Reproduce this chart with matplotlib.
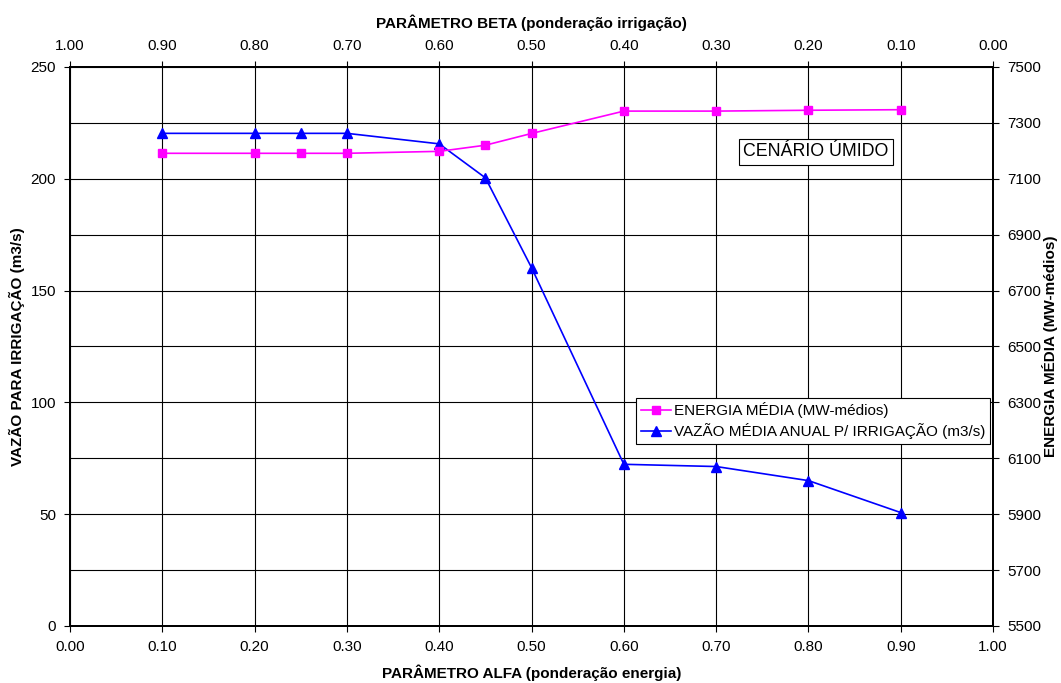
import numpy as np
import matplotlib
matplotlib.use("Agg")
from matplotlib import pyplot as plt
from matplotlib.ticker import MultipleLocator, FixedLocator, FormatStrFormatter

plt.rcParams['font.family'] = ['Liberation Sans', 'DejaVu Sans']

# alfa values (beta = 1 - alfa)
alfa = [0.10, 0.20, 0.25, 0.30, 0.40, 0.45, 0.50, 0.60, 0.70, 0.80, 0.90]
# mean energy, MW-médios (right axis)
energia = [7191, 7191, 7191, 7191, 7198, 7220, 7262, 7342, 7342, 7345, 7347]
# mean annual flow for irrigation, m3/s (left axis)
vazao = [220.3, 220.3, 220.3, 220.3, 215.6, 200.4, 160.2, 72.3, 71.3, 65.0, 50.7]

lbl_energia = 'ENERGIA MÉDIA (MW-médios)'
lbl_vazao = 'VAZÃO MÉDIA ANUAL P/ IRRIGAÇÃO (m3/s)'

fig = plt.figure(figsize=(10.61, 6.83), dpi=100)
ax = fig.add_axes([0.066, 0.0835, 0.870, 0.8185])
ax2 = ax.twinx()
ax3 = ax.twiny()

# left axis: vazao
ax.set_xlim(0, 1)
ax.set_ylim(0, 250)
ax.xaxis.set_major_locator(MultipleLocator(0.1))
ax.xaxis.set_major_formatter(FormatStrFormatter('%.2f'))
ax.yaxis.set_major_locator(MultipleLocator(50))
ax.yaxis.set_minor_locator(MultipleLocator(25))
ax.grid(True, which='both', color='black', lw=0.8)
ax.tick_params(which='minor', length=0)
ax.tick_params(which='major', direction='out', length=4, labelsize=11, pad=6, color='black')
l1, = ax.plot(alfa, vazao, color='#0000FF', lw=1.2, marker='^', ms=7, label=lbl_vazao, zorder=3)
ax.set_ylabel('VAZÃO PARA IRRIGAÇÃO (m3/s)', fontsize=11, fontweight='bold', va='center')
ax.yaxis.set_label_coords(-0.0574, 0.5)
ax.set_xlabel('PARÂMETRO ALFA (ponderação energia)', fontsize=11, fontweight='bold', labelpad=8)

# right axis: energia
ax2.set_ylim(5500, 7500)
ax2.yaxis.set_major_locator(FixedLocator(np.arange(5500, 7501, 200)))
ax2.tick_params(direction='out', length=4, labelsize=11, pad=6)
l2, = ax2.plot(alfa, energia, color='#FF00FF', lw=1.2, marker='s', ms=6, label=lbl_energia, zorder=3)
ax2.set_ylabel('ENERGIA MÉDIA (MW-médios)', fontsize=11, fontweight='bold', va='center')
ax2.yaxis.set_label_coords(1.0618, 0.5)

# top axis: beta
ax3.set_xlim(1, 0)
ax3.xaxis.set_major_locator(MultipleLocator(0.1))
ax3.xaxis.set_major_formatter(FormatStrFormatter('%.2f'))
ax3.tick_params(direction='out', length=4, labelsize=11, pad=6)
ax3.set_xlabel('PARÂMETRO BETA (ponderação irrigação)', fontsize=11, fontweight='bold', labelpad=8)

for a in (ax, ax2, ax3):
    for s in a.spines.values():
        s.set_color('black')
        s.set_linewidth(1.2)

leg = ax3.legend([l2, l1], [lbl_energia, lbl_vazao], loc='upper right',
                 bbox_to_anchor=(0.997, 0.408), borderaxespad=0, fontsize=11,
                 fancybox=False, framealpha=1, edgecolor='black',
                 handlelength=2.0, borderpad=0.3, labelspacing=0.3, handletextpad=0.2)
leg.get_frame().set_linewidth(0.8)

ax3.text(0.808, 0.848, 'CENÁRIO ÚMIDO', transform=ax3.transAxes, ha='center', va='center',
         fontsize=12.8, zorder=5,
         bbox=dict(boxstyle='square,pad=0.25', fc='white', ec='black', lw=0.8))

fig.savefig('out.png', dpi=100)
